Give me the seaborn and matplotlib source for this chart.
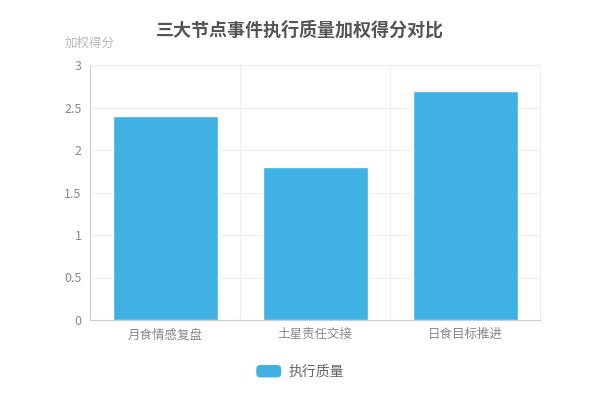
import matplotlib
matplotlib.use("Agg")
import matplotlib.pyplot as plt
import seaborn as sns
import pandas as pd
from matplotlib.patches import Patch, FancyBboxPatch
from matplotlib.legend_handler import HandlerPatch

# data
categories = ["月食情感复盘", "土星责任交接", "日食目标推进"]
scores = [2.4, 1.8, 2.7]
series_name = "执行质量"
yticks = [0, 0.5, 1, 1.5, 2, 2.5, 3]
ytick_labels = ["0", "0.5", "1", "1.5", "2", "2.5", "3"]

bar_color = "#3fb1e3"

sns.set_style("white")
plt.rcParams['font.family'] = ['Noto Sans CJK SC', 'DejaVu Sans']

df = pd.DataFrame({"category": categories, "score": scores})

fig = plt.figure(figsize=(6, 4), dpi=100)
ax = fig.add_axes([0.15, 0.2, 0.75, 0.6375])

sns.barplot(data=df, x="category", y="score", color=bar_color, width=0.7,
            saturation=1, ax=ax, zorder=3)

ax.set_ylim(0, 3)
ax.set_xlim(-0.5, 2.5)
ax.set_yticks(yticks)
ax.set_yticklabels(ytick_labels)
ax.set_xlabel("")
ax.set_ylabel("")

# grid lines
ax.grid(axis="y", color="#eeeeee", linewidth=0.8, zorder=0)
for xb in [0.5, 1.5]:
    ax.axvline(xb, color="#eeeeee", linewidth=0.8, zorder=0)

for side in ["top", "right"]:
    ax.spines[side].set_color("#eeeeee")
    ax.spines[side].set_linewidth(0.8)
ax.spines["left"].set_color("#cccccc")
ax.spines["bottom"].set_color("#cccccc")
ax.tick_params(axis="both", colors="#999999", labelsize=9, length=0, pad=6)
for lbl in ax.get_xticklabels() + ax.get_yticklabels():
    lbl.set_color("#888888")

fig.text(0.5, 0.925, "三大节点事件执行质量加权得分对比", ha="center", va="center",
         fontsize=13, fontweight="bold", color="#555555")
fig.text(0.108, 0.893, "加权得分", ha="left", va="center", fontsize=9, color="#bbbbbb")


class RoundHandler(HandlerPatch):
    def create_artists(self, legend, orig_handle, xdescent, ydescent, width,
                       height, fontsize, trans):
        p = FancyBboxPatch((-xdescent, -ydescent), width, height,
                           boxstyle="round,pad=0,rounding_size=3",
                           facecolor=orig_handle.get_facecolor(),
                           edgecolor="none", transform=trans)
        return [p]


handle = Patch(facecolor=bar_color, edgecolor=bar_color)
leg = fig.legend([handle], [series_name], loc="center", bbox_to_anchor=(0.5, 0.07),
                 frameon=False, fontsize=10, handlelength=1.8, handleheight=1.0,
                 handletextpad=0.5, handler_map={Patch: RoundHandler()})
for t in leg.get_texts():
    t.set_color("#666666")

fig.savefig("out.png", dpi=100)
